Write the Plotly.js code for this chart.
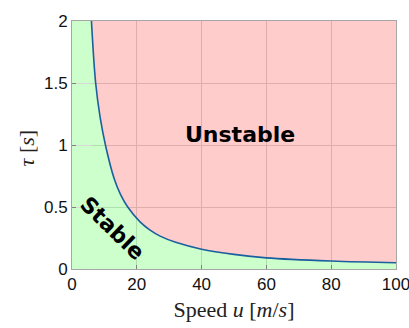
<!DOCTYPE html>
<html>
<head>
<meta charset="utf-8">
<script src="https://cdn.plot.ly/plotly-3.0.1.min.js"></script>
<style>html,body{margin:0;padding:0;background:#fff;}#chart{width:409px;height:328px;}</style>
</head>
<body>
<div id="chart"></div>
<script>
// Stability boundary: speed u [m/s] vs critical delay tau [s]
const speed = [6.0, 7.3, 8.7, 10.4, 13.0, 15.0, 17.2, 21.0, 24.1, 27.2, 32.0, 40, 50, 60, 80, 100];
const tauCrit = [2.0, 1.5, 1.22, 0.99, 0.73, 0.60, 0.5, 0.38, 0.313, 0.265, 0.215, 0.16, 0.118, 0.09, 0.064, 0.05];
const xTicks = [0, 20, 40, 60, 80, 100];
const yTicks = [0, 0.5, 1, 1.5, 2];
const xRange = [0, 100];
const yRange = [0, 2];
const xTitle = 'Speed <i>u</i> [<i>m</i>/<i>s</i>]';
const yTitle = '<i>τ</i> [<i>s</i>]';
const regionLabels = ["Unstable", "Stable"];

const topLine = speed.map(() => yRange[1]);

const traces = [
  // stable region below the boundary
  {x: speed, y: tauCrit, mode: 'lines', line: {width: 0, shape: 'spline', color: 'rgba(0,0,0,0)'}, fill: 'tozeroy',
   fillcolor: 'rgba(0,255,0,0.2)', hoverinfo: 'skip', showlegend: false},
  // unstable region above the boundary
  {x: speed, y: topLine, mode: 'lines', line: {width: 0, color: 'rgba(0,0,0,0)'}, fill: 'tonexty',
   fillcolor: 'rgba(255,0,0,0.2)', hoverinfo: 'skip', showlegend: false},
  // boundary curve
  {x: speed, y: tauCrit, mode: 'lines', line: {color: '#1a5f9e', width: 1.6, shape: 'spline'}, showlegend: false}
];

const axisCommon = {
  showgrid: true, gridcolor: '#d9d9d9', gridwidth: 1,
  zeroline: false, showline: true, mirror: true, linecolor: '#a6a6a6', linewidth: 1,
  ticks: 'inside', ticklen: 4, tickcolor: '#808080', ticklabeloverflow: 'allow',
  tickfont: {family: 'Liberation Sans, Arial, sans-serif', size: 17, color: '#111'}
};

const titleFont = {family: 'Liberation Serif, Times New Roman, serif', size: 22, color: '#222'};

const layout = {
  width: 409, height: 328,
  margin: {l: 72, r: 13, t: 21, b: 59},
  paper_bgcolor: '#fff', plot_bgcolor: '#fff',
  xaxis: Object.assign({}, axisCommon, {
    range: xRange, tickvals: xTicks, ticktext: xTicks.map(String),
    title: {text: xTitle, standoff: 8, font: titleFont}
  }),
  yaxis: Object.assign({}, axisCommon, {
    range: yRange, tickvals: yTicks, ticktext: yTicks.map(String)
  }),
  shapes: [
    // stable strip left of the boundary's first point
    {type: 'rect', xref: 'x', yref: 'y', x0: xRange[0], x1: speed[0], y0: yRange[0], y1: yRange[1],
     fillcolor: 'rgba(0,255,0,0.2)', line: {width: 0}, layer: 'below'}
  ],
  annotations: [
    {x: -0.139, y: 0.49, xref: 'paper', yref: 'paper', text: yTitle, showarrow: false, textangle: -90,
     xanchor: 'center', yanchor: 'middle', font: titleFont},
    {x: 51.7, y: 1.085, xref: 'x', yref: 'y', text: '<b>' + regionLabels[0] + '</b>', showarrow: false,
     font: {family: 'DejaVu Sans, Verdana, sans-serif', size: 22, color: '#000'}},
    {x: 12.6, y: 0.33, xref: 'x', yref: 'y', text: '<b>' + regionLabels[1] + '</b>', showarrow: false, textangle: 44,
     font: {family: 'DejaVu Sans, Verdana, sans-serif', size: 22, color: '#000'}}
  ]
};

Plotly.newPlot('chart', traces, layout, {displayModeBar: false, staticPlot: true});
</script>
</body>
</html>
